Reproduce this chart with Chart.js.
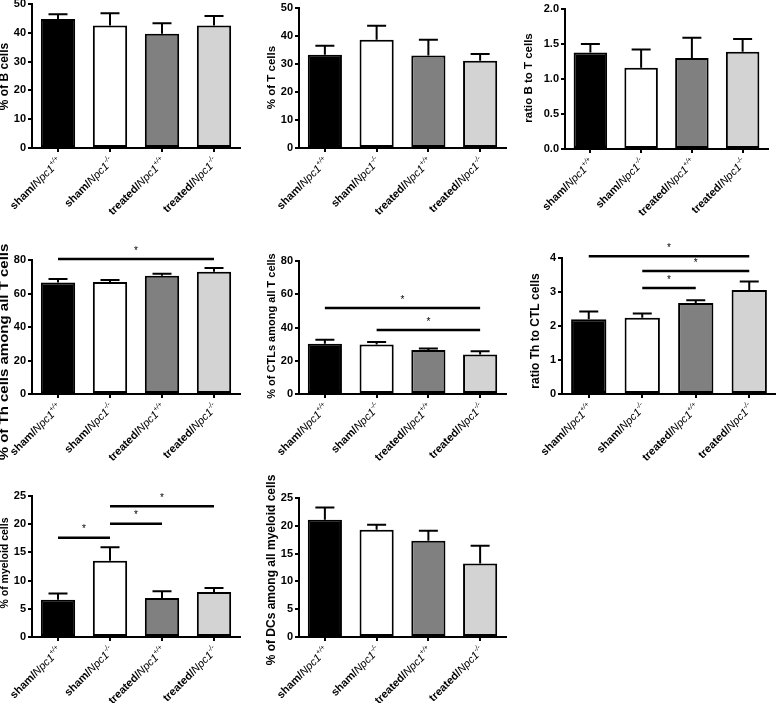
<!DOCTYPE html>
<html>
<head>
<meta charset="utf-8">
<script src="https://cdn.jsdelivr.net/npm/chart.js@4"></script>
<style>
  html, body { margin: 0; padding: 0; background: #fff; }
  #wrap { position: relative; width: 776px; height: 703px; overflow: hidden; }
  #wrap canvas { position: absolute; }
</style>
</head>
<body>
<div id="wrap"></div>
<script>
var categories = ['sham/Npc1+/+', 'sham/Npc1-/-', 'treated/Npc1+/+', 'treated/Npc1-/-'];
var barColors = ['#000000', '#ffffff', '#808080', '#d3d3d3'];

// means and SEM
var bCells = [44.8, 42.5, 39.7, 42.5];
var bCellsSem = [1.6, 4.3, 3.6, 3.3];
var tCells = [33.3, 38.7, 33.0, 31.2];
var tCellsSem = [3.2, 5.0, 5.7, 2.4];
var ratioBT = [1.38, 1.16, 1.30, 1.39];
var ratioBTSem = [0.12, 0.26, 0.29, 0.18];
var thCells = [66.5, 66.9, 70.6, 73.0];
var thCellsSem = [2.2, 1.2, 1.2, 2.2];
var ctlCells = [30.3, 29.7, 26.5, 23.8];
var ctlCellsSem = [2.4, 1.6, 0.8, 1.9];
var ratioThCtl = [2.20, 2.24, 2.68, 3.06];
var ratioThCtlSem = [0.23, 0.13, 0.08, 0.25];
var myeloid = [6.6, 13.5, 6.9, 8.0];
var myeloidSem = [1.1, 2.4, 1.2, 0.7];
var dcCells = [21.1, 19.3, 17.3, 13.2];
var dcCellsSem = [2.2, 0.9, 1.8, 3.2];

// significance brackets: [from group, to group, height in axis units]
var thSig = [[0, 3, 80.6]];
var ctlSig = [[0, 3, 51.7], [1, 3, 38.5]];
var ratioThCtlSig = [[0, 3, 4.05], [1, 3, 3.62], [1, 2, 3.12]];
var myeloidSig = [[0, 1, 17.6], [1, 2, 20.1], [1, 3, 23.2]];

var FONT = '"Liberation Sans", Arial, Helvetica, sans-serif';

var panels = [
  { title: '% of B cells', values: bCells, errors: bCellsSem, max: 50, step: 10, sig: [],
    cell: [0, 0, 260, 240], area: [32, 4, 240, 148], titleAt: [5, 76.5], titleSize: 12 },
  { title: '% of T cells', values: tCells, errors: tCellsSem, max: 50, step: 10, sig: [],
    cell: [260, 0, 260, 240], area: [299, 8, 506, 148], titleAt: [271.5, 77.5], titleSize: 11.5 },
  { title: 'ratio B to T cells', values: ratioBT, errors: ratioBTSem, max: 2, step: 0.5, sig: [], decimals: 1,
    cell: [520, 0, 256, 240], area: [565, 9, 768, 149], titleAt: [529, 78], titleSize: 11.5 },
  { title: '% of Th cells among all T cells', values: thCells, errors: thCellsSem, max: 80, step: 20, sig: thSig,
    cell: [0, 240, 260, 230], area: [32, 260, 240, 394], titleAt: [5, 352], titleSize: 12.5, stretch: 1.2 },
  { title: '% of CTLs among all T cells', values: ctlCells, errors: ctlCellsSem, max: 80, step: 20, sig: ctlSig,
    cell: [260, 240, 260, 230], area: [299, 261, 506, 394], titleAt: [272, 326], titleSize: 11 },
  { title: 'ratio Th to CTL cells', values: ratioThCtl, errors: ratioThCtlSem, max: 4, step: 1, sig: ratioThCtlSig,
    cell: [520, 240, 256, 230], area: [562, 258, 776, 394], titleAt: [536, 331], titleSize: 12 },
  { title: '% of myeloid cells', values: myeloid, errors: myeloidSem, max: 25, step: 5, sig: myeloidSig,
    cell: [0, 470, 260, 233], area: [32, 496, 240, 637], titleAt: [5, 563], titleSize: 10.5 },
  { title: '% of DCs among all myeloid cells', values: dcCells, errors: dcCellsSem, max: 25, step: 5, sig: [],
    cell: [260, 470, 260, 233], area: [299, 498, 506, 637], titleAt: [271.5, 570], titleSize: 12 }
];

var extras = {
  id: 'extras',
  afterDatasetsDraw: function (chart) {
    var p = chart.options.panel;
    var ctx = chart.ctx;
    var xs = chart.scales.x, ys = chart.scales.y;
    ctx.save();
    ctx.strokeStyle = '#000';
    ctx.lineWidth = 2;
    chart.getDatasetMeta(0).data.forEach(function (bar, i) {
      var y0 = ys.getPixelForValue(p.values[i]);
      var y1 = ys.getPixelForValue(p.values[i] + p.errors[i]);
      ctx.beginPath();
      ctx.moveTo(bar.x, y0);
      ctx.lineTo(bar.x, y1);
      ctx.moveTo(bar.x - 9.5, y1);
      ctx.lineTo(bar.x + 9.5, y1);
      ctx.stroke();
    });
    // significance lines
    ctx.lineWidth = 2.5;
    ctx.fillStyle = '#000';
    ctx.font = '10px ' + FONT;
    ctx.textAlign = 'center';
    ctx.textBaseline = 'middle';
    p.sig.forEach(function (s) {
      var xa = xs.getPixelForValue(s[0]), xb = xs.getPixelForValue(s[1]);
      var y = ys.getPixelForValue(s[2]);
      ctx.beginPath();
      ctx.moveTo(xa, y);
      ctx.lineTo(xb, y);
      ctx.stroke();
      ctx.fillText('*', (xa + xb) / 2, y - 8);
    });
    ctx.restore();
  },
  afterDraw: function (chart) {
    var p = chart.options.panel;
    var ctx = chart.ctx;
    var xs = chart.scales.x;
    ctx.save();
    ctx.fillStyle = '#000';
    // rotated group labels
    categories.forEach(function (cat, i) {
      var m = cat.match(/^(\w+\/)(Npc1)(.*)$/);
      var parts = [
        { t: m[1], f: 'bold 11px ' + FONT, dy: 0 },
        { t: m[2], f: 'italic 11px ' + FONT, dy: 0 },
        { t: m[3], f: 'italic 7px ' + FONT, dy: -4 }
      ];
      var total = 0;
      parts.forEach(function (q) { ctx.font = q.f; q.w = ctx.measureText(q.t).width; total += q.w; });
      ctx.save();
      ctx.translate(xs.getPixelForValue(i) + 2, chart.chartArea.bottom + 12);
      ctx.rotate(-Math.PI / 4);
      ctx.textAlign = 'left';
      ctx.textBaseline = 'middle';
      var x = -total;
      parts.forEach(function (q) {
        ctx.font = q.f;
        ctx.fillText(q.t, x, q.dy);
        x += q.w;
      });
      ctx.restore();
    });
    // y axis title
    ctx.translate(p.titleAt[0] - p.cell[0], p.titleAt[1] - p.cell[1]);
    ctx.rotate(-Math.PI / 2);
    if (p.stretch) ctx.scale(p.stretch, 1);
    ctx.font = 'bold ' + p.titleSize + 'px ' + FONT;
    ctx.textAlign = 'center';
    ctx.textBaseline = 'middle';
    ctx.fillText(p.title, 0, 0);
    ctx.restore();
  }
};

var wrap = document.getElementById('wrap');

panels.forEach(function (p) {
  var canvas = document.createElement('canvas');
  canvas.width = p.cell[2];
  canvas.height = p.cell[3];
  canvas.style.left = p.cell[0] + 'px';
  canvas.style.top = p.cell[1] + 'px';
  wrap.appendChild(canvas);

  var padTop = p.area[1] - p.cell[1];
  var padRight = p.cell[0] + p.cell[2] - p.area[2];
  var yWidth = p.area[0] - p.cell[0];
  var xHeight = p.cell[1] + p.cell[3] - p.area[3];

  new Chart(canvas.getContext('2d'), {
    type: 'bar',
    data: {
      labels: categories,
      datasets: [{
        data: p.values,
        backgroundColor: barColors,
        borderColor: '#000',
        borderWidth: 2,
        borderSkipped: false,
        barPercentage: 0.66,
        categoryPercentage: 1
      }]
    },
    options: {
      panel: p,
      responsive: false,
      animation: false,
      devicePixelRatio: 1,
      layout: { padding: { top: padTop, right: padRight, left: 0, bottom: 0 } },
      plugins: { legend: { display: false }, tooltip: { enabled: false } },
      scales: {
        x: {
          grid: { display: true, drawOnChartArea: false, offset: false, tickLength: 4, color: '#000', lineWidth: 2 },
          border: { display: true, color: '#000', width: 2 },
          ticks: { display: false },
          afterFit: function (s) { s.height = xHeight; s.paddingLeft = 0; s.paddingRight = 0; }
        },
        y: {
          min: 0,
          max: p.max,
          ticks: {
            stepSize: p.step,
            color: '#000',
            padding: 2,
            font: { family: FONT, size: 11, weight: 'bold' },
            callback: function (v) { return p.decimals ? v.toFixed(p.decimals) : v; }
          },
          grid: { display: true, drawOnChartArea: false, tickLength: 4, color: '#000', lineWidth: 2 },
          border: { display: true, color: '#000', width: 2 },
          afterFit: function (s) { s.width = yWidth; s.paddingTop = 0; s.paddingBottom = 0; }
        }
      }
    },
    plugins: [extras]
  });
});
</script>
</body>
</html>
